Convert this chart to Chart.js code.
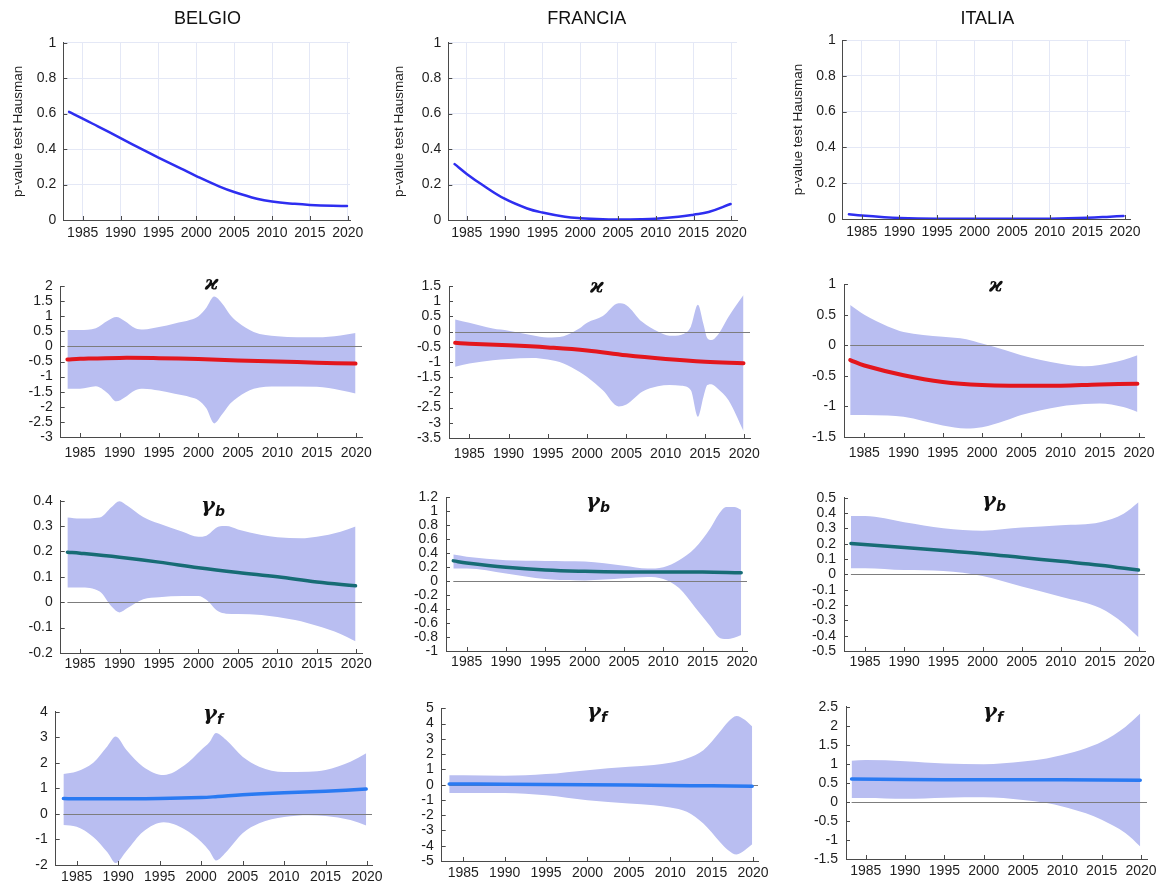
<!DOCTYPE html>
<html><head><meta charset="utf-8">
<script src="https://cdn.jsdelivr.net/npm/chart.js@4"></script>
<style>
html,body{margin:0;padding:0;background:#fff;}
#wrap{position:relative;width:1161px;height:888px;overflow:hidden;background:#fff;}
canvas{position:absolute;}
.t{position:absolute;transform:translate(-50%,-50%);white-space:nowrap;color:#111;line-height:1;}
.country{font:18px "Liberation Sans",Arial,sans-serif;}
.greek{font-family:"DejaVu Serif",serif;font-style:italic;font-size:21px;font-weight:bold;}
.greek sub{font-family:"DejaVu Sans",sans-serif;font-size:14px;font-weight:bold;vertical-align:-4px;}
</style></head><body><div id="wrap"></div>
<script>
// ---------------- tick labels ----------------
const yearTicks = [1985, 1990, 1995, 2000, 2005, 2010, 2015, 2020];
const pvTicks = [0, 0.2, 0.4, 0.6, 0.8, 1];
const kBelgioTicks = [-3, -2.5, -2, -1.5, -1, -0.5, 0, 0.5, 1, 1.5, 2];
const kFranciaTicks = [-3.5, -3, -2.5, -2, -1.5, -1, -0.5, 0, 0.5, 1, 1.5];
const kItaliaTicks = [-1.5, -1, -0.5, 0, 0.5, 1];
const gbBelgioTicks = [-0.2, -0.1, 0, 0.1, 0.2, 0.3, 0.4];
const gbFranciaTicks = [-1, -0.8, -0.6, -0.4, -0.2, 0, 0.2, 0.4, 0.6, 0.8, 1, 1.2];
const gbItaliaTicks = [-0.5, -0.4, -0.3, -0.2, -0.1, 0, 0.1, 0.2, 0.3, 0.4, 0.5];
const gfBelgioTicks = [-2, -1, 0, 1, 2, 3, 4];
const gfFranciaTicks = [-5, -4, -3, -2, -1, 0, 1, 2, 3, 4, 5];
const gfItaliaTicks = [-1.5, -1, -0.5, 0, 0.5, 1, 1.5, 2, 2.5];

// ---------------- Row 1: p-value test Hausman ----------------
const pvBelgioYears = [1983.2, 1985, 1987, 1990, 1993, 1995, 1998, 2000, 2003, 2005, 2008, 2010, 2013, 2015, 2018, 2019.9];
const pvBelgio = [0.61, 0.572, 0.528, 0.462, 0.395, 0.352, 0.29, 0.248, 0.19, 0.158, 0.12, 0.104, 0.091, 0.085, 0.08, 0.079];
const pvFranciaYears = [1983.4, 1985, 1987, 1990, 1993, 1995, 1998, 2000, 2003, 2005, 2008, 2010, 2013, 2015, 2017, 2019.9];
const pvFrancia = [0.315, 0.26, 0.2, 0.12, 0.065, 0.042, 0.018, 0.01, 0.004, 0.003, 0.004, 0.007, 0.018, 0.03, 0.045, 0.09];
const pvItaliaYears = [1983.3, 1985, 1988, 1990, 1995, 2000, 2005, 2010, 2015, 2018, 2019.8];
const pvItalia = [0.026, 0.019, 0.01, 0.006, 0.002, 0.001, 0.001, 0.002, 0.007, 0.013, 0.017];

// ---------------- Row 2: kappa ----------------
const kBelgioBandYears = [1983.4, 1985, 1987, 1988.5, 1989.6, 1990.6, 1992, 1993, 1995, 1997, 1999, 2000, 2001, 2002, 2003, 2004, 2005, 2007, 2010, 2015, 2018, 2019.9];
const kBelgioUpper = [0.54, 0.54, 0.6, 0.85, 0.97, 0.85, 0.6, 0.56, 0.64, 0.76, 0.88, 1.0, 1.28, 1.65, 1.42, 1.05, 0.8, 0.48, 0.34, 0.3, 0.36, 0.44];
const kBelgioLower = [-1.4, -1.4, -1.32, -1.55, -1.82, -1.7, -1.45, -1.4, -1.46, -1.57, -1.68, -1.78, -2.05, -2.55, -2.25, -1.9, -1.68, -1.4, -1.33, -1.34, -1.45, -1.56];
const kBelgioYears = [1983.4, 1985, 1990, 1995, 2000, 2005, 2010, 2015, 2019.9];
const kBelgio = [-0.43, -0.41, -0.38, -0.39, -0.42, -0.47, -0.5, -0.54, -0.57];

const kFranciaBandYears = [1983.2, 1985, 1988, 1990, 1993, 1995, 1997, 1999, 2000, 2002, 2004, 2005, 2007, 2009, 2010.5, 2012, 2013.2, 2014.1, 2014.8, 2015.3, 2015.8, 2016.6, 2018, 2019.9];
const kFranciaUpper = [0.4, 0.29, 0.1, 0.03, -0.12, -0.19, -0.15, 0.1, 0.29, 0.51, 0.93, 0.87, 0.32, 0.0, -0.14, -0.1, 0.16, 0.88, 0.25, -0.22, -0.28, -0.12, 0.49, 1.2];
const kFranciaLower = [-1.16, -1.05, -0.94, -0.9, -0.87, -0.92, -1.05, -1.32, -1.49, -1.93, -2.46, -2.4, -1.98, -1.8, -1.76, -1.78, -1.93, -2.8, -2.15, -1.76, -1.73, -1.87, -2.26, -3.27];
const kFranciaYears = [1983.2, 1985, 1990, 1995, 2000, 2005, 2010, 2015, 2019.9];
const kFrancia = [-0.37, -0.4, -0.45, -0.52, -0.62, -0.78, -0.9, -0.99, -1.04];

const kItaliaBandYears = [1983.2, 1985, 1988, 1990, 1995, 1998, 2000, 2003, 2005, 2010, 2013, 2015, 2018, 2019.8];
const kItaliaUpper = [0.66, 0.5, 0.31, 0.22, 0.14, 0.1, 0.03, -0.08, -0.16, -0.3, -0.34, -0.32, -0.24, -0.16];
const kItaliaLower = [-1.14, -1.14, -1.15, -1.17, -1.31, -1.36, -1.34, -1.23, -1.14, -1.0, -0.96, -0.95, -1.01, -1.09];
const kItaliaYears = [1983.2, 1985, 1990, 1995, 2000, 2005, 2010, 2015, 2019.8];
const kItalia = [-0.24, -0.33, -0.49, -0.6, -0.65, -0.66, -0.66, -0.64, -0.63];

// ---------------- Row 3: gamma_b ----------------
const gbBelgioBandYears = [1983.4, 1985, 1987.5, 1989, 1990, 1991, 1993, 1995, 1998, 2000, 2001, 2002.5, 2003.5, 2005, 2008, 2010, 2013, 2015, 2018, 2019.9];
const gbBelgioUpper = [0.334, 0.33, 0.334, 0.375, 0.398, 0.38, 0.336, 0.31, 0.278, 0.258, 0.262, 0.297, 0.3, 0.287, 0.265, 0.256, 0.252, 0.258, 0.278, 0.298];
const gbBelgioLower = [0.058, 0.058, 0.042, -0.017, -0.04, -0.023, 0.012, 0.02, 0.025, 0.025, 0.01, -0.036, -0.045, -0.046, -0.05, -0.058, -0.075, -0.093, -0.125, -0.154];
const gbBelgioYears = [1983.4, 1985, 1990, 1995, 2000, 2005, 2010, 2015, 2019.9];
const gbBelgio = [0.197, 0.193, 0.177, 0.158, 0.136, 0.117, 0.1, 0.08, 0.065];

const gbFranciaBandYears = [1983.3, 1985, 1990, 1995, 2000, 2005, 2008, 2010, 2012, 2014, 2016, 2017, 2018, 2019, 2019.9];
const gbFranciaUpper = [0.38, 0.35, 0.3, 0.29, 0.28, 0.22, 0.18, 0.2, 0.3, 0.47, 0.76, 0.95, 1.06, 1.06, 1.02];
const gbFranciaLower = [0.18, 0.18, 0.11, 0.03, 0.01, 0.04, 0.06, 0.03, -0.1, -0.37, -0.65, -0.8, -0.83, -0.81, -0.77];
const gbFranciaYears = [1983.3, 1985, 1990, 1995, 2000, 2005, 2010, 2015, 2019.9];
const gbFrancia = [0.29, 0.26, 0.2, 0.16, 0.14, 0.13, 0.13, 0.13, 0.12];

const gbItaliaBandYears = [1983.2, 1985, 1990, 1995, 2000, 2005, 2010, 2015, 2018, 2019.9];
const gbItaliaUpper = [0.38, 0.38, 0.34, 0.3, 0.285, 0.305, 0.32, 0.34, 0.395, 0.47];
const gbItaliaLower = [0.04, 0.04, 0.028, 0.022, -0.011, -0.08, -0.146, -0.22, -0.32, -0.41];
const gbItaliaYears = [1983.2, 1990, 1995, 2000, 2005, 2010, 2015, 2019.9];
const gbItalia = [0.202, 0.175, 0.155, 0.135, 0.11, 0.085, 0.06, 0.028];

// ---------------- Row 4: gamma_f ----------------
const gfBelgioBandYears = [1983.4, 1985, 1987, 1988.7, 1989.7, 1991, 1993, 1995.5, 1998, 2000, 2001, 2001.8, 2003, 2005, 2007, 2010, 2013, 2015, 2018, 2019.9];
const gfBelgioUpper = [1.56, 1.66, 2.0, 2.65, 3.03, 2.5, 1.85, 1.52, 1.9, 2.5, 2.8, 3.17, 2.9, 2.24, 1.85, 1.64, 1.65, 1.72, 2.04, 2.37];
const gfBelgioLower = [-0.43, -0.5, -0.9, -1.5, -1.92, -1.45, -0.7, -0.33, -0.6, -1.09, -1.45, -1.82, -1.5, -0.76, -0.37, -0.12, -0.05, -0.08, -0.24, -0.45];
const gfBelgioYears = [1983.4, 1985, 1990, 1995, 2000, 2002, 2005, 2010, 2015, 2019.9];
const gfBelgio = [0.6, 0.59, 0.59, 0.6, 0.64, 0.68, 0.75, 0.83, 0.89, 0.97];

const gfFranciaBandYears = [1983.3, 1985, 1990, 1995, 2000, 2005, 2008, 2010, 2012, 2014, 2016, 2017, 2018, 2019, 2019.9];
const gfFranciaUpper = [0.62, 0.62, 0.58, 0.69, 0.95, 1.17, 1.28, 1.43, 1.72, 2.26, 3.47, 4.12, 4.5, 4.25, 3.8];
const gfFranciaLower = [-0.54, -0.54, -0.54, -0.69, -1.02, -1.24, -1.35, -1.5, -1.78, -2.55, -3.75, -4.3, -4.58, -4.3, -3.91];
const gfFranciaYears = [1983.3, 1990, 2000, 2010, 2015, 2019.9];
const gfFrancia = [0.05, 0.03, 0.0, -0.05, -0.08, -0.1];

const gfItaliaBandYears = [1983.2, 1985, 1990, 1995, 2000, 2005, 2008, 2010, 2013, 2015, 2018, 2019.9];
const gfItaliaUpper = [1.08, 1.1, 1.07, 1.01, 0.99, 1.06, 1.14, 1.23, 1.41, 1.58, 1.97, 2.32];
const gfItaliaLower = [0.1, 0.1, 0.08, 0.11, 0.12, 0.05, -0.03, -0.12, -0.3, -0.47, -0.82, -1.17];
const gfItaliaYears = [1983.2, 1990, 2000, 2010, 2019.9];
const gfItalia = [0.6, 0.59, 0.58, 0.58, 0.57];

// ---------------- styles ----------------
const FONT = '"Liberation Sans", Arial, Helvetica, sans-serif';
const BAND = '#b9bef1';
const RED = '#e3161d';
const TEAL = '#176c75';
const BLUE_F = '#2a7af2';
const BLUE_P = '#2e2ef0';
const AXIS = '#4a4a4a';

const wrap = document.getElementById('wrap');

function pts(xs, ys) { return xs.map((x, i) => ({ x: x, y: ys[i] })); }
function fmt(v) { const r = Math.round(v * 100) / 100; return (r === 0 ? 0 : r).toString(); }

const deco = {
  id: 'deco',
  beforeDatasetDraw(chart, args, opts) {
    if (args.index !== 0 || !opts.zero) return;
    const { ctx, chartArea: a, scales: { x, y } } = chart;
    const py = Math.round(y.getPixelForValue(0)) + 0.5;
    ctx.save();
    ctx.strokeStyle = '#7d7d7d';
    ctx.lineWidth = 1.2;
    ctx.beginPath();
    ctx.moveTo(x.getPixelForValue(opts.zeroStart), py);
    ctx.lineTo(a.right, py);
    ctx.stroke();
    ctx.restore();
  },
  afterDraw(chart) {
    const { ctx, chartArea: a, scales: { x, y } } = chart;
    ctx.save();
    ctx.strokeStyle = AXIS;
    ctx.lineWidth = 1;
    ctx.beginPath();
    x.ticks.forEach(t => { const px = Math.round(x.getPixelForValue(t.value)) + 0.5; ctx.moveTo(px, a.bottom); ctx.lineTo(px, a.bottom - 4); });
    y.ticks.forEach(t => { const py = Math.round(y.getPixelForValue(t.value)) + 0.5; ctx.moveTo(a.left, py); ctx.lineTo(a.left + 4, py); });
    ctx.stroke();
    ctx.restore();
  }
};

function makePanel(p, datasets, yTicks, o) {
  const cv = document.createElement('canvas');
  const left = Math.round(p.L - 60), top = Math.round(p.T - 30);
  const yW = p.L - left, padT = p.T - top, padR = 25, xH = 30;
  const w = Math.round(p.R - left + padR), h = Math.round(p.B - top + xH);
  cv.width = w; cv.height = h;
  cv.style.left = left + 'px'; cv.style.top = top + 'px';
  cv.style.width = w + 'px'; cv.style.height = h + 'px';
  wrap.appendChild(cv);
  new Chart(cv, {
    type: 'line',
    data: { datasets: datasets },
    options: {
      responsive: false, animation: false, devicePixelRatio: 1,
      layout: { padding: { top: padT, right: padR, left: 0, bottom: 0 } },
      plugins: {
        legend: { display: false }, tooltip: { enabled: false }, title: { display: false },
        deco: { zero: !!o.zero, zeroStart: o.zeroStart }
      },
      elements: { point: { radius: 0 } },
      scales: {
        x: {
          type: 'linear', min: p.xmin, max: p.xmax,
          afterFit: s => { s.height = xH; },
          afterBuildTicks: s => { s.ticks = yearTicks.map(v => ({ value: v })); },
          grid: { display: !!o.grid, color: '#e4e8f6', lineWidth: 1, drawTicks: false },
          border: { display: true, color: AXIS, width: 1 },
          ticks: { font: { family: FONT, size: 14 }, color: '#1e1e1e', padding: o.xPad, maxRotation: 0, autoSkip: false, callback: v => String(v) }
        },
        y: {
          type: 'linear', min: yTicks[0], max: yTicks[yTicks.length - 1],
          afterFit: s => { s.width = yW; },
          afterBuildTicks: s => { s.ticks = yTicks.map(v => ({ value: v })); },
          grid: { display: !!o.grid, color: '#e4e8f6', lineWidth: 1, drawTicks: false },
          border: { display: true, color: AXIS, width: 1 },
          ticks: { font: { family: FONT, size: o.ySize || 14 }, color: '#1e1e1e', padding: o.yPad || 7, autoSkip: false, callback: v => fmt(v) },
          title: o.yTitle ? { display: true, text: o.yTitle, font: { family: FONT, size: 13.5 }, color: '#1e1e1e', padding: { top: o.yTitlePad, bottom: 0 } } : { display: false }
        }
      }
    },
    plugins: [deco]
  });
}

function lineDs(xs, ys, color, width) {
  return { data: pts(xs, ys), borderColor: color, borderWidth: width, pointRadius: 0, fill: false, tension: 0.4, borderCapStyle: 'round' };
}
function bandDs(xs, upper, lower) {
  return [
    { data: pts(xs, upper), borderColor: 'rgba(0,0,0,0)', borderWidth: 0, backgroundColor: BAND, pointRadius: 0, fill: '+1', cubicInterpolationMode: 'monotone' },
    { data: pts(xs, lower), borderColor: 'rgba(0,0,0,0)', borderWidth: 0, backgroundColor: BAND, pointRadius: 0, fill: false, cubicInterpolationMode: 'monotone' }
  ];
}
function label(cls, html, x, y) {
  const d = document.createElement('div');
  d.className = 't ' + cls; d.innerHTML = html;
  d.style.left = x + 'px'; d.style.top = y + 'px';
  wrap.appendChild(d);
}

// ---------------- panel geometry ----------------
const geo = {
  pvB: { L: 63.3, T: 42.7, R: 350, B: 220, xmin: 1982.44, xmax: 2020.3 },
  pvF: { L: 448.3, T: 42.7, R: 736.7, B: 220, xmin: 1982.56, xmax: 2020.75 },
  pvI: { L: 842.7, T: 40, R: 1130, B: 218.7, xmin: 1982.47, xmax: 2020.66 },
  kB: { L: 60.7, T: 286, R: 361.7, B: 436.7, xmin: 1982.55, xmax: 2020.72 },
  kF: { L: 449, T: 286, R: 750, B: 437.7, xmin: 1982.42, xmax: 2020.73 },
  kI: { L: 844, T: 284.3, R: 1144, B: 436.7, xmin: 1982.41, xmax: 2020.64 },
  gbB: { L: 60.7, T: 500.7, R: 361.7, B: 653.3, xmin: 1982.55, xmax: 2020.72 },
  gbF: { L: 446, T: 497.3, R: 747.3, B: 651, xmin: 1982.37, xmax: 2020.64 },
  gbI: { L: 844, T: 497.7, R: 1145, B: 651, xmin: 1982.32, xmax: 2020.73 },
  gfB: { L: 55.7, T: 711.7, R: 371.7, B: 865, xmin: 1982.47, xmax: 2020.6 },
  gfF: { L: 441.7, T: 708.3, R: 758.3, B: 860.7, xmin: 1982.39, xmax: 2020.6 },
  gfI: { L: 846, T: 706.7, R: 1146.7, B: 859.3, xmin: 1982.49, xmax: 2020.76 }
};

// Row 1
makePanel(geo.pvB, [lineDs(pvBelgioYears, pvBelgio, BLUE_P, 2.5)], pvTicks, { grid: true, xPad: 5, yTitle: 'p-value test Hausman', yTitlePad: 7.6 });
makePanel(geo.pvF, [lineDs(pvFranciaYears, pvFrancia, BLUE_P, 2.5)], pvTicks, { grid: true, xPad: 5, yTitle: 'p-value test Hausman', yTitlePad: 3.6 });
makePanel(geo.pvI, [lineDs(pvItaliaYears, pvItalia, BLUE_P, 2.5)], pvTicks, { grid: true, xPad: 5, yTitle: 'p-value test Hausman', yTitlePad: 6.7 });
// Row 2
makePanel(geo.kB, [lineDs(kBelgioYears, kBelgio, RED, 4), ...bandDs(kBelgioBandYears, kBelgioUpper, kBelgioLower)], kBelgioTicks, { zero: true, zeroStart: kBelgioBandYears[0], xPad: 8, yPad: 8 });
makePanel(geo.kF, [lineDs(kFranciaYears, kFrancia, RED, 4), ...bandDs(kFranciaBandYears, kFranciaUpper, kFranciaLower)], kFranciaTicks, { zero: true, zeroStart: kFranciaBandYears[0], xPad: 8, yPad: 8 });
makePanel(geo.kI, [lineDs(kItaliaYears, kItalia, RED, 4), ...bandDs(kItaliaBandYears, kItaliaUpper, kItaliaLower)], kItaliaTicks, { zero: true, zeroStart: kItaliaBandYears[0], xPad: 8, yPad: 8 });
// Row 3
makePanel(geo.gbB, [lineDs(gbBelgioYears, gbBelgio, TEAL, 3.5), ...bandDs(gbBelgioBandYears, gbBelgioUpper, gbBelgioLower)], gbBelgioTicks, { zero: true, zeroStart: gbBelgioBandYears[0], xPad: 3, yPad: 8 });
makePanel(geo.gbF, [lineDs(gbFranciaYears, gbFrancia, TEAL, 3.5), ...bandDs(gbFranciaBandYears, gbFranciaUpper, gbFranciaLower)], gbFranciaTicks, { zero: true, zeroStart: gbFranciaBandYears[0], xPad: 3, yPad: 8 });
makePanel(geo.gbI, [lineDs(gbItaliaYears, gbItalia, TEAL, 3.5), ...bandDs(gbItaliaBandYears, gbItaliaUpper, gbItaliaLower)], gbItaliaTicks, { zero: true, zeroStart: gbItaliaBandYears[0], xPad: 3, yPad: 8 });
// Row 4
makePanel(geo.gfB, [lineDs(gfBelgioYears, gfBelgio, BLUE_F, 3.5), ...bandDs(gfBelgioBandYears, gfBelgioUpper, gfBelgioLower)], gfBelgioTicks, { zero: true, zeroStart: gfBelgioBandYears[0], xPad: 4, yPad: 8 });
makePanel(geo.gfF, [lineDs(gfFranciaYears, gfFrancia, BLUE_F, 3.5), ...bandDs(gfFranciaBandYears, gfFranciaUpper, gfFranciaLower)], gfFranciaTicks, { zero: true, zeroStart: gfFranciaBandYears[0], xPad: 4, yPad: 8 });
makePanel(geo.gfI, [lineDs(gfItaliaYears, gfItalia, BLUE_F, 3.5), ...bandDs(gfItaliaBandYears, gfItaliaUpper, gfItaliaLower)], gfItaliaTicks, { zero: true, zeroStart: gfItaliaBandYears[0], xPad: 4, yPad: 8 });

// ---------------- titles ----------------
label('country', 'BELGIO', 207.5, 18);
label('country', 'FRANCIA', 586.7, 18);
label('country', 'ITALIA', 987.3, 18);
label('greek', 'ϰ', 211.7, 281);
label('greek', 'ϰ', 597, 284);
label('greek', 'ϰ', 996, 283);
label('greek', 'γ<sub>b</sub>', 213, 506);
label('greek', 'γ<sub>b</sub>', 598, 502);
label('greek', 'γ<sub>b</sub>', 994, 501);
label('greek', 'γ<sub>f</sub>', 213, 714);
label('greek', 'γ<sub>f</sub>', 597, 712);
label('greek', 'γ<sub>f</sub>', 993, 712);
</script>
</body></html>
